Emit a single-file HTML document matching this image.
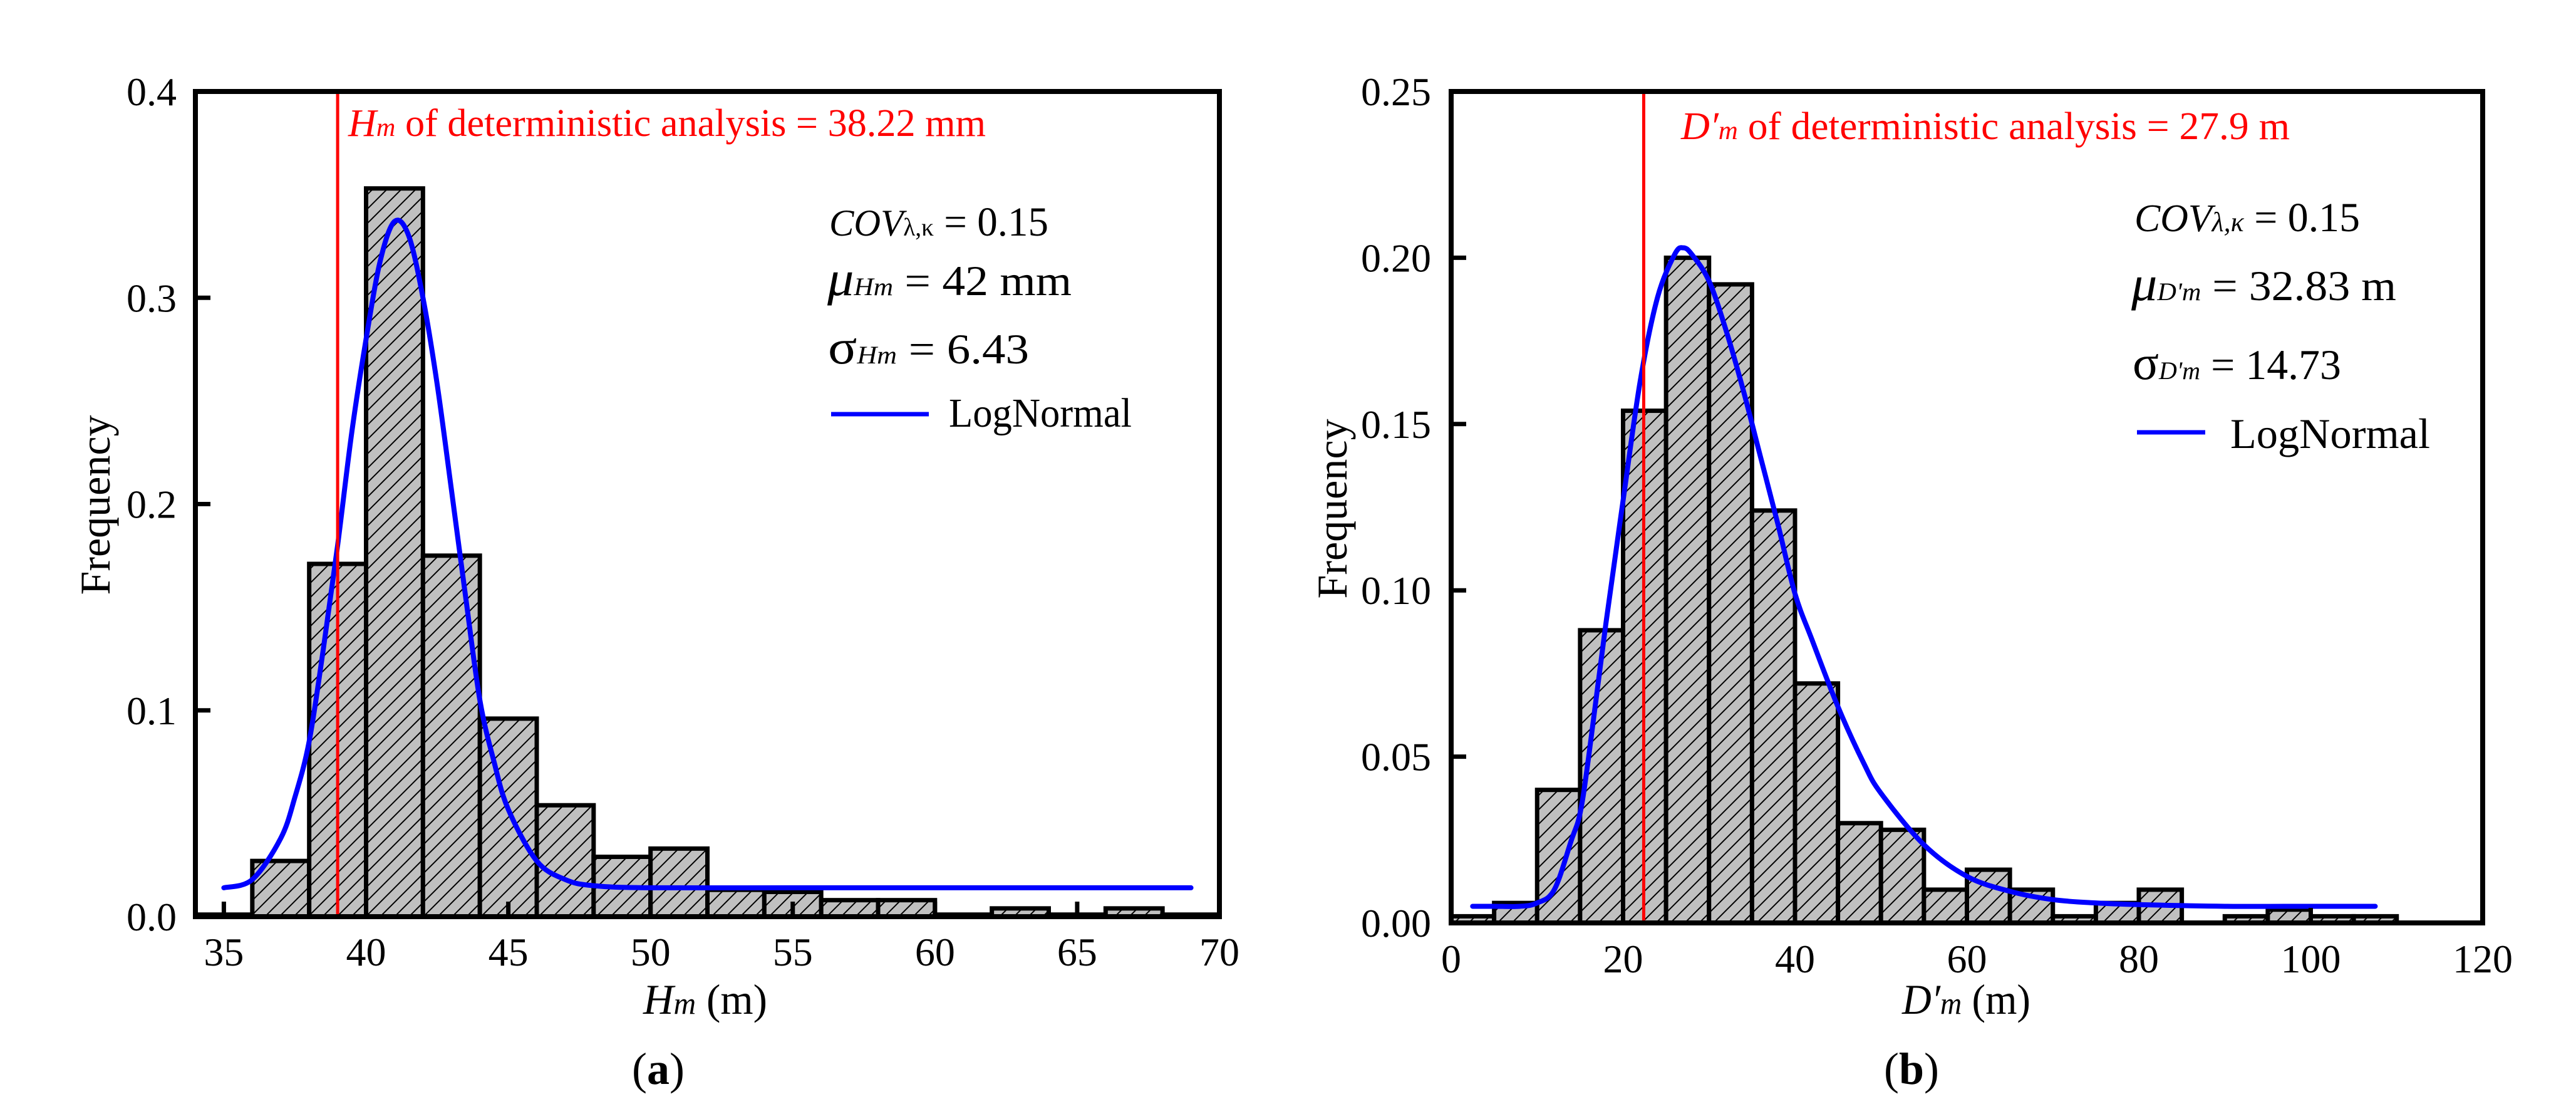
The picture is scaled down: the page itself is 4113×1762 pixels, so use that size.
<!DOCTYPE html>
<html><head><meta charset="utf-8"><style>
html,body{margin:0;padding:0;background:#fff}
svg{display:block}
svg, svg text, svg tspan{font-family:"Liberation Serif","Times New Roman",Times,"DejaVu Serif",serif !important}
</style></head><body>
<svg id="fig" xmlns="http://www.w3.org/2000/svg" width="4113" height="1762" viewBox="0 0 4113 1762" font-family="Liberation Serif, Times New Roman, serif">
<defs>
<pattern id="hatch" patternUnits="userSpaceOnUse" width="23" height="23">
<rect width="23" height="23" fill="#c0c0c0"/>
<path d="M-2,25 L25,-2 M-6,6 L6,-6 M17,29 L29,17" stroke="#000" stroke-width="2"/>
</pattern>
</defs>
<g id="panelA"></g>
<g id="panelB"></g>

<g font-family="Liberation Serif, Times New Roman, serif">
<!-- panel a texts -->
<text x="556" y="217" font-size="62" fill="#ff0000" textLength="1018" lengthAdjust="spacingAndGlyphs"><tspan font-style="italic">H</tspan><tspan font-style="italic" font-size="42">m</tspan> of deterministic analysis = 38.22 mm</text>
<text x="1324" y="376" font-size="66" textLength="350" lengthAdjust="spacingAndGlyphs"><tspan font-style="italic" font-size="60">COV</tspan><tspan font-size="40">λ,κ</tspan> = 0.15</text>
<text x="1321" y="471" font-size="68" textLength="390" lengthAdjust="spacingAndGlyphs"><tspan font-style="italic" font-size="78">μ</tspan><tspan font-style="italic" font-size="40">Hm</tspan>  =  42 mm</text>
<text x="1322" y="580" font-size="68" textLength="321" lengthAdjust="spacingAndGlyphs"><tspan font-size="78">σ</tspan><tspan font-style="italic" font-size="40">Hm</tspan>  =  6.43</text>
<line x1="1327" y1="661" x2="1483" y2="661" stroke="#0000ff" stroke-width="7"/>
<text x="1515" y="681" font-size="66" textLength="292" lengthAdjust="spacingAndGlyphs">LogNormal</text>
<text x="1027" y="1618" font-size="68" textLength="198" lengthAdjust="spacingAndGlyphs"><tspan font-style="italic">H</tspan><tspan font-style="italic" font-size="50">m</tspan> (m)</text>
<text transform="translate(175,806) rotate(-90)" text-anchor="middle" font-size="68" textLength="287" lengthAdjust="spacingAndGlyphs">Frequency</text>
<text x="1051" y="1730" font-size="72" text-anchor="middle">(<tspan font-weight="bold">a</tspan>)</text>

<!-- panel b texts -->
<text x="2684" y="222" font-size="62" fill="#ff0000" textLength="972" lengthAdjust="spacingAndGlyphs"><tspan font-style="italic">D′</tspan><tspan font-style="italic" font-size="42">m</tspan>  of deterministic analysis  = 27.9 m</text>
<text x="3408" y="369" font-size="66" textLength="360" lengthAdjust="spacingAndGlyphs"><tspan font-style="italic" font-size="62">COV</tspan><tspan font-style="italic" font-size="44">λ,κ</tspan> = 0.15</text>
<text x="3403" y="479" font-size="68" textLength="423" lengthAdjust="spacingAndGlyphs"><tspan font-style="italic" font-size="78">μ</tspan><tspan font-style="italic" font-size="40">D'm</tspan> =  32.83 m</text>
<text x="3405" y="605" font-size="68" textLength="333" lengthAdjust="spacingAndGlyphs"><tspan font-size="78">σ</tspan><tspan font-style="italic" font-size="40">D'm</tspan> = 14.73</text>
<line x1="3412" y1="690" x2="3521" y2="690" stroke="#0000ff" stroke-width="7"/>
<text x="3561" y="715" font-size="68" textLength="319" lengthAdjust="spacingAndGlyphs">LogNormal</text>
<text x="3037" y="1618" font-size="68" textLength="205" lengthAdjust="spacingAndGlyphs"><tspan font-style="italic">D′</tspan><tspan font-style="italic" font-size="50">m</tspan> (m)</text>
<text transform="translate(2150,812) rotate(-90)" text-anchor="middle" font-size="68" textLength="287" lengthAdjust="spacingAndGlyphs">Frequency</text>
<text x="3052" y="1730" font-size="72" text-anchor="middle">(<tspan font-weight="bold">b</tspan>)</text>
</g>
</svg>
<script>
// ---- Panel A data ----
const binEdgesA = [34,36,38,40,42,44,46,48,50,52,54,56,58,60,62,64,66,68,70];
const freqA = [0.001,0.027,0.171,0.353,0.175,0.096,0.054,0.029,0.033,0.013,0.012,0.008,0.008,0.001,0.004,0.001,0.004,0.001];
const curveXA = [35,36,37,37.5,38,38.5,39,39.5,40,40.5,41,41.5,42,42.5,43,43.5,44,44.5,45,46,47,48,50,55,60,65,69];
const curveYA = [0.014,0.018,0.038,0.058,0.085,0.13,0.18,0.235,0.28,0.318,0.337,0.33,0.30,0.258,0.207,0.155,0.105,0.075,0.052,0.027,0.018,0.015,0.014,0.014,0.014,0.014,0.014];
const detA = 39.0;
const xTicksA = [35,40,45,50,55,60,65,70];
const yTicksA = [0.0,0.1,0.2,0.3,0.4];
const yTickLabelsA = ["0.0","0.1","0.2","0.3","0.4"];

// ---- Panel B data ----
const binEdgesB = [0,5,10,15,20,25,30,35,40,45,50,55,60,65,70,75,80,85,90,95,100,105,110];
const freqB = [0.002,0.006,0.040,0.088,0.154,0.200,0.192,0.124,0.072,0.030,0.028,0.010,0.016,0.010,0.002,0.006,0.010,0,0.002,0.004,0.002,0.002];
const curveXB = [2.5,5,8,10,12,14,15,16,18,20,22,24,26,27,28,30,32,34,36,38,40,42,45,48,50,55,60,65,70,75,80,90,100,107.5];
const curveYB = [0.005,0.005,0.005,0.006,0.01,0.025,0.033,0.05,0.09,0.127,0.163,0.188,0.201,0.203,0.201,0.193,0.178,0.16,0.14,0.12,0.099,0.085,0.065,0.048,0.039,0.0235,0.014,0.0095,0.007,0.006,0.0055,0.005,0.005,0.005];
const detB = 22.4;
const xTicksB = [0,20,40,60,80,100,120];
const yTicksB = [0,0.05,0.10,0.15,0.20,0.25];
const yTickLabelsB = ["0.00","0.05","0.10","0.15","0.20","0.25"];

const NS = "http://www.w3.org/2000/svg";
const FONT = "Liberation Serif, Times New Roman, serif";
function mk(tag, attrs, parent){
  const e = document.createElementNS(NS, tag);
  for (const k in attrs) e.setAttribute(k, attrs[k]);
  parent.appendChild(e);
  return e;
}
function smoothPath(pts){
  let d = "M" + pts[0][0] + "," + pts[0][1];
  for (let i=0;i<pts.length-1;i++){
    const p0 = pts[Math.max(0,i-1)], p1 = pts[i], p2 = pts[i+1], p3 = pts[Math.min(pts.length-1,i+2)];
    const c1x = p1[0] + (p2[0]-p0[0])/6, c1y = p1[1] + (p2[1]-p0[1])/6;
    const c2x = p2[0] - (p3[0]-p1[0])/6, c2y = p2[1] - (p3[1]-p1[1])/6;
    d += " C" + c1x + "," + c1y + " " + c2x + "," + c2y + " " + p2[0] + "," + p2[1];
  }
  return d;
}
function drawPanel(g, cfg){
  const sx = v => cfg.x0 + (v - cfg.xmin)/(cfg.xmax - cfg.xmin)*(cfg.x1 - cfg.x0);
  const sy = v => cfg.y0 - (v - cfg.ymin)/(cfg.ymax - cfg.ymin)*(cfg.y0 - cfg.y1);
  for (let i=0;i<cfg.freq.length;i++){
    const xa = sx(cfg.edges[i]), xb = sx(cfg.edges[i+1]);
    const yt = sy(cfg.freq[i]);
    const r = mk("rect", {x:xa, y:yt, width:xb-xa, height:Math.max(0, cfg.y0-yt), fill:"url(#hatch)", stroke:"#000", "stroke-width":7}, g);
    
    
  }
  const pts = cfg.cx.map((v,i)=>[sx(v), sy(cfg.cy[i])]);
  const c = mk("path", {d:smoothPath(pts), fill:"none", stroke:"#0000ff", "stroke-width":8, "stroke-linecap":"round"}, g);
  
  
  const dl = mk("line", {x1:sx(cfg.det), x2:sx(cfg.det), y1:cfg.y1, y2:cfg.y0, stroke:"#ff0000", "stroke-width":5}, g);
  
  
  const fr = mk("rect", {x:cfg.x0, y:cfg.y1, width:cfg.x1-cfg.x0, height:cfg.y0-cfg.y1, fill:"none", stroke:"#000", "stroke-width":8}, g);
  
  
  cfg.xticks.forEach(t=>{
    const x = sx(t);
    const tk = mk("line", {x1:x, x2:x, y1:cfg.y0, y2:cfg.y0-24, stroke:"#000", "stroke-width":7}, g);
    
    
    const tl = mk("text", {x:x, y:cfg.xlabY, "text-anchor":"middle", "font-size":64, "font-family":FONT}, g);
    tl.textContent = String(t);
    
    
  });
  cfg.yticks.forEach((t,i)=>{
    const y = sy(t);
    const tk = mk("line", {x1:cfg.x0, x2:cfg.x0+24, y1:y, y2:y, stroke:"#000", "stroke-width":7}, g);
    
    
    const tl = mk("text", {x:cfg.ylabX, y:y+22, "text-anchor":"end", "font-size":64, "font-family":FONT}, g);
    tl.textContent = cfg.ylabels[i];
    
    
  });
}
drawPanel(document.getElementById("panelA"), {
  x0:312, x1:1947, y0:1463, y1:146, xmin:34, xmax:70, ymin:0, ymax:0.4,
  edges:binEdgesA, freq:freqA, cx:curveXA, cy:curveYA, det:detA,
  xticks:xTicksA, yticks:yTicksA, ylabels:yTickLabelsA, xlabY:1541, ylabX:282
});
drawPanel(document.getElementById("panelB"), {
  x0:2317, x1:3964, y0:1473, y1:146, xmin:0, xmax:120, ymin:0, ymax:0.25,
  edges:binEdgesB, freq:freqB, cx:curveXB, cy:curveYB, det:detB,
  xticks:xTicksB, yticks:yTicksB, ylabels:yTickLabelsB, xlabY:1552, ylabX:2285
});
</script>
</body></html>
